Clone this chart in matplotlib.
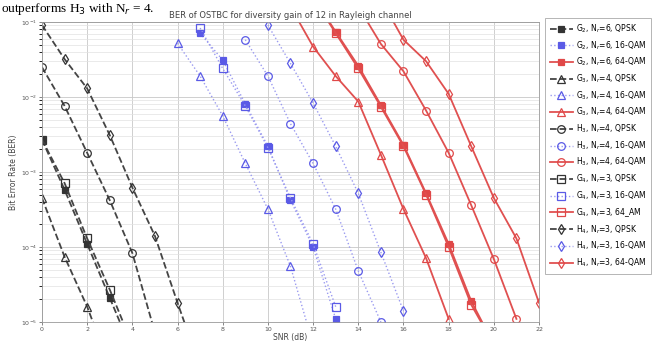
import numpy as np
import matplotlib
matplotlib.use("Agg")
import matplotlib.pyplot as plt

# BER, SNR in dB
snr_g2_qpsk = [0, 1, 2, 3, 4]
ber_g2_qpsk = [2.7e-3, 5.8e-4, 1.1e-4, 2.1e-5, 4e-6]
snr_g4_qpsk = [0, 1, 2, 3, 4]
ber_g4_qpsk = [2.7e-3, 7.1e-4, 1.3e-4, 2.7e-5, 5e-6]
snr_g3_qpsk = [0, 1, 2, 3]
ber_g3_qpsk = [4.5e-4, 7.4e-5, 1.6e-5, 2.5e-6]
snr_h3_qpsk = [0, 1, 2, 3, 4, 5]
ber_h3_qpsk = [2.5e-2, 7.6e-3, 1.8e-3, 4.2e-4, 8.3e-5, 7.2e-6]
snr_h4_qpsk = [0, 1, 2, 3, 4, 5, 6, 7]
ber_h4_qpsk = [9.1e-2, 3.2e-2, 1.3e-2, 3.1e-3, 6.2e-4, 1.4e-4, 1.8e-5, 2.5e-6]

snr_g3_16 = [6, 7, 8, 9, 10, 11, 12]
ber_g3_16 = [5.2e-2, 1.9e-2, 5.6e-3, 1.3e-3, 3.2e-4, 5.5e-5, 5e-6]
snr_g2_16 = [7, 8, 9, 10, 11, 12, 13]
ber_g2_16 = [7.1e-2, 3.1e-2, 8.1e-3, 2.2e-3, 4.2e-4, 1.0e-4, 1.1e-5]
snr_g4_16 = [7, 8, 9, 10, 11, 12, 13]
ber_g4_16 = [8.3e-2, 2.4e-2, 7.6e-3, 2.1e-3, 4.5e-4, 1.1e-4, 1.6e-5]
snr_h3_16 = [9, 10, 11, 12, 13, 14, 15]
ber_h3_16 = [5.8e-2, 1.9e-2, 4.4e-3, 1.3e-3, 3.2e-4, 4.8e-5, 1.0e-5]
snr_h4_16 = [10, 11, 12, 13, 14, 15, 16]
ber_h4_16 = [9.1e-2, 2.8e-2, 8.3e-3, 2.2e-3, 5.2e-4, 8.5e-5, 1.4e-5]

snr_g3_64 = [11, 12, 13, 14, 15, 16, 17, 18]
ber_g3_64 = [0.16, 4.7e-2, 1.9e-2, 8.7e-3, 1.7e-3, 3.2e-4, 7.1e-5, 1.1e-5]
snr_g2_64 = [12, 13, 14, 15, 16, 17, 18, 19, 20]
ber_g2_64 = [0.22, 7.4e-2, 2.6e-2, 7.8e-3, 2.3e-3, 5.2e-4, 1.1e-4, 1.9e-5, 5e-6]
snr_g4_64 = [12, 13, 14, 15, 16, 17, 18, 19, 20]
ber_g4_64 = [0.21, 7.1e-2, 2.4e-2, 7.4e-3, 2.2e-3, 5.0e-4, 1.0e-4, 1.7e-5, 5e-6]
snr_h3_64 = [14, 15, 16, 17, 18, 19, 20, 21]
ber_h3_64 = [0.16, 5.1e-2, 2.2e-2, 6.6e-3, 1.8e-3, 3.6e-4, 6.9e-5, 1.1e-5]
snr_h4_64 = [15, 16, 17, 18, 19, 20, 21, 22]
ber_h4_64 = [0.2, 5.8e-2, 3.0e-2, 1.1e-2, 2.2e-3, 4.5e-4, 1.3e-4, 1.8e-5]

labels = ["G$_2$, N$_r$=6, QPSK", "G$_2$, N$_r$=6, 16-QAM", "G$_2$, N$_r$=6, 64-QAM",
          "G$_3$, N$_r$=4, QPSK", "G$_3$, N$_r$=4, 16-QAM", "G$_3$, N$_r$=4, 64-QAM",
          "H$_3$, N$_r$=4, QPSK", "H$_3$, N$_r$=4, 16-QAM", "H$_3$, N$_r$=4, 64-QAM",
          "G$_4$, N$_r$=3, QPSK", "G$_4$, N$_r$=3, 16-QAM", "G$_4$, N$_r$=3, 64_AM",
          "H$_4$, N$_r$=3, QPSK", "H$_4$, N$_r$=3, 16-QAM", "H$_4$, N$_r$=3, 64-QAM"]

curves = [(snr_g2_qpsk, ber_g2_qpsk), (snr_g2_16, ber_g2_16), (snr_g2_64, ber_g2_64),
          (snr_g3_qpsk, ber_g3_qpsk), (snr_g3_16, ber_g3_16), (snr_g3_64, ber_g3_64),
          (snr_h3_qpsk, ber_h3_qpsk), (snr_h3_16, ber_h3_16), (snr_h3_64, ber_h3_64),
          (snr_g4_qpsk, ber_g4_qpsk), (snr_g4_16, ber_g4_16), (snr_g4_64, ber_g4_64),
          (snr_h4_qpsk, ber_h4_qpsk), (snr_h4_16, ber_h4_16), (snr_h4_64, ber_h4_64)]

markers = ['s', '^', 'o', 's', 'd']
line_col = ['#444444', '#9a9af0', '#e05050']
mark_col = ['#333333', '#5a5ae6', '#e04848']
styles = ['--', ':', '-']
widths = [1.3, 1.0, 1.3]

fig = plt.figure(figsize=(6.6, 3.42), dpi=100)
ax = fig.add_axes([0.0636, 0.0585, 0.7531, 0.8772])

for i, (x, y) in enumerate(curves):
    grp = i // 3
    mod = i % 3
    filled = (grp == 0)
    ms = 4.5 if filled else 5.5
    ax.semilogy(x, y, linestyle=styles[mod], color=line_col[mod], lw=widths[mod],
                marker=markers[grp], ms=ms, mec=mark_col[mod], mew=0.9,
                mfc=mark_col[mod] if filled else 'none', label=labels[i])

ax.set_xlim(0, 22)
ax.set_ylim(1e-5, 1e-1)
ax.set_xticks(np.arange(0, 23, 2))
ax.grid(True, which='major', color='#c8c8c8', lw=0.6)
ax.grid(True, which='minor', color='#e2e2e2', lw=0.5)
ax.tick_params(labelsize=4.5, colors='#555555', length=2, width=0.5, pad=1.5)
for s in ax.spines.values():
    s.set_color('#999999')
    s.set_linewidth(0.6)

ax.set_xlabel("SNR (dB)", fontsize=5.5, color='#444444', labelpad=0.5)
ax.set_ylabel("Bit Error Rate (BER)", fontsize=5.5, color='#444444', labelpad=2)
ax.set_title("BER of OSTBC for diversity gain of 12 in Rayleigh channel",
             fontsize=6, color='#444444', pad=3)

leg = fig.legend(loc='upper left', bbox_to_anchor=(0.826, 0.948), fontsize=5.5,
                 handlelength=3.0, handletextpad=0.5, labelspacing=0.55,
                 borderpad=0.6, borderaxespad=0,
                 fancybox=False, edgecolor='#aaaaaa', framealpha=1)
leg.get_frame().set_linewidth(0.6)

fig.text(0.002, 0.966, "outperforms H$_3$ with N$_r$ = 4.", fontsize=9.5,
         family='Liberation Serif', va='baseline', ha='left')

fig.savefig("out.png", dpi=100)
